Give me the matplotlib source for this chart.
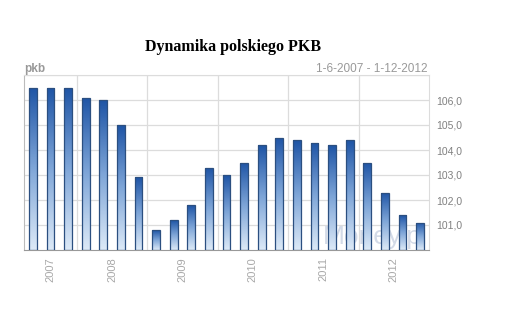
import numpy as np
import matplotlib.pyplot as plt
from matplotlib.colors import LinearSegmentedColormap

# quarterly values, 1-6-2007 .. 1-12-2012
values = [106.5, 106.5, 106.5, 106.1, 106.0, 105.0, 102.9, 100.8, 101.2, 101.8,
          103.3, 103.0, 103.5, 104.2, 104.5, 104.4, 104.3, 104.2, 104.4, 103.5,
          102.3, 101.4, 101.1]
years = ["2007", "2008", "2009", "2010", "2011", "2012"]
year_pos = [1.0, 4.5, 8.5, 12.5, 16.5, 20.5]
year_bounds = [2.5, 6.5, 10.5, 14.5, 18.5]
yticks = [101, 102, 103, 104, 105, 106]

plt.rcParams['font.family'] = ['Liberation Sans', 'DejaVu Sans']

fig = plt.figure(figsize=(5.26, 3.27), dpi=100)
ax = fig.add_axes([24 / 526, 1 - 250 / 327, 405 / 526, 175 / 327])

x = np.arange(len(values))
ax.set_xlim(-0.5, len(values) - 0.5)
ax.set_ylim(100, 107)

# grid
for yv in yticks + [107]:
    ax.axhline(yv, color="#dcdcdc", lw=0.9, zorder=0)
for xv in year_bounds:
    ax.axvline(xv, color="#dcdcdc", lw=0.9, zorder=0)

# watermark
ax.text(22.45, 100.25, "Money.pl", fontsize=19, color="#d3dae7", ha="right",
        va="baseline", zorder=1)

cmap = LinearSegmentedColormap.from_list("g", ["#dce9f7", "#7fa6d8", "#1f55a6"])
grad = np.linspace(0, 1, 100).reshape(-1, 1)
bars = ax.bar(x, [v - 100 for v in values], bottom=100, width=0.44,
              facecolor="none", edgecolor="#2b4f80", lw=0.9, zorder=3)
for b in bars:
    x0, y0 = b.get_x(), b.get_y()
    im = ax.imshow(grad, cmap=cmap, origin="lower", aspect="auto",
                   extent=[x0, x0 + b.get_width(), y0, y0 + b.get_height()],
                   zorder=2)
    im.set_clip_path(b)

for s in ["top", "right"]:
    ax.spines[s].set_color("#dcdcdc")
ax.spines["left"].set_color("#bbbbbb")
ax.spines["bottom"].set_color("#999999")

ax.yaxis.tick_right()
ax.set_yticks(yticks)
ax.set_yticklabels([f"{v},0" for v in yticks], fontsize=7.5, color="#808080")
ax.tick_params(axis="y", length=0, pad=5)
ax.set_xticks(year_pos)
ax.set_xticklabels(years, rotation=90, fontsize=8, color="#a8a8a8")
ax.tick_params(axis="x", length=0, pad=5)

fig.text(233 / 526, 1 - 47 / 327, "Dynamika polskiego PKB", fontsize=11.5,
         fontweight="bold", family="Liberation Serif", ha="center", va="center")
fig.text(24 / 526, 1 - 69 / 327, "pkb", fontsize=8.5, fontweight="bold",
         color="#999999", ha="left", va="center")
fig.text(428 / 526, 1 - 69 / 327, "1-6-2007 - 1-12-2012", fontsize=8.5,
         color="#999999", ha="right", va="center")

fig.savefig("out.png", dpi=100)
